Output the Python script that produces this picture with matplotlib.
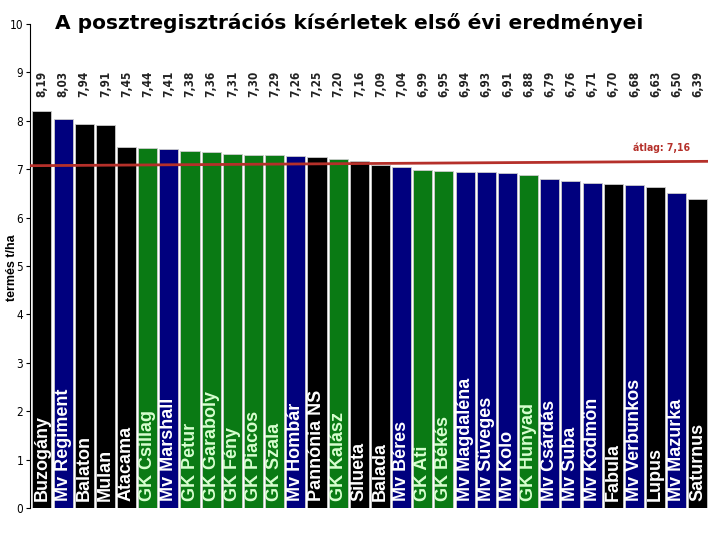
import matplotlib.pyplot as plt

# fajták, termés (t/ha) és a csoport (színkód)
fajtak = ['Buzogány', 'Mv Regiment', 'Balaton', 'Mulan', 'Atacama', 'GK Csillag',
          'Mv Marshall', 'GK Petur', 'GK Garaboly', 'GK Fény', 'GK Piacos', 'GK Szala',
          'Mv Hombár', 'Pannónia NS', 'GK Kalász', 'Silueta', 'Balada', 'Mv Béres',
          'GK Ati', 'GK Békés', 'Mv Magdaléna', 'Mv Süveges', 'Mv Kolo', 'GK Hunyad',
          'Mv Csárdás', 'Mv Suba', 'Mv Ködmön', 'Fabula', 'Mv Verbunkos', 'Lupus',
          'Mv Mazurka', 'Saturnus']
termes = [8.19, 8.03, 7.94, 7.91, 7.45, 7.44, 7.41, 7.38, 7.36, 7.31, 7.30, 7.29,
          7.26, 7.25, 7.20, 7.16, 7.09, 7.04, 6.99, 6.95, 6.94, 6.93, 6.91, 6.88,
          6.79, 6.76, 6.71, 6.70, 6.68, 6.63, 6.50, 6.39]
csoport = ['k', 'mv', 'k', 'k', 'k', 'gk', 'mv', 'gk', 'gk', 'gk', 'gk', 'gk',
           'mv', 'k', 'gk', 'k', 'k', 'mv', 'gk', 'gk', 'mv', 'mv', 'mv', 'gk',
           'mv', 'mv', 'mv', 'k', 'mv', 'k', 'mv', 'k']
atlag_vonal = [7.07, 7.16]   # a piros átlagvonal két vége (kissé ferde az eredetin)
atlag = 7.16

bar_col = {'k': '#000000', 'mv': '#00007e', 'gk': '#0a7a14'}
txt_col = {'k': 'white', 'mv': 'white', 'gk': '#d8ffd0'}
sans = ['Liberation Sans', 'DejaVu Sans']

fig = plt.figure(figsize=(7.2, 5.4), dpi=100)
ax = fig.add_axes([0.042, 0.059, 0.942, 0.897])

x = list(range(len(fajtak)))
ax.bar(x, termes, width=0.9, color=[bar_col[c] for c in csoport],
       edgecolor='#cccccc', linewidth=0.6, zorder=2)

for i, (nev, v, c) in enumerate(zip(fajtak, termes, csoport)):
    ax.text(i, 0.15, nev, rotation=90, ha='center', va='bottom', color=txt_col[c],
            fontsize=13, fontweight='bold', family=sans, zorder=3)
    ax.text(i, 8.75, f'{v:.2f}'.replace('.', ','), rotation=90, ha='center', va='center',
            fontsize=8.5, fontweight='bold', family='DejaVu Sans', fontstretch='condensed',
            color='#222222')

ax.plot([-0.55, 31.5], atlag_vonal, color='#b5302a', linewidth=2, zorder=4)
ax.text(29.3, 7.45, f'átlag: {atlag:.2f}'.replace('.', ','), color='#b5302a',
        fontsize=7.5, fontweight='bold', family='DejaVu Sans', fontstretch='condensed',
        ha='center', va='center')

ax.set_xlim(-0.55, 31.5)
ax.set_ylim(0, 10)
ax.set_yticks(range(11))
ax.set_xticks([])
for lab in ax.get_yticklabels():
    lab.set_family('DejaVu Sans')
    lab.set_stretch('condensed')
    lab.set_fontsize(8.5)
ax.tick_params(axis='y', length=3, width=0.8, pad=2)
ax.spines['top'].set_visible(False)
ax.spines['right'].set_visible(False)
ax.spines['bottom'].set_visible(False)
ax.spines['left'].set_linewidth(0.8)

fig.text(0.017, 0.505, 'termés t/ha', rotation=90, fontsize=9, fontweight='bold',
         family=sans, ha='center', va='center')

fig.text(0.077, 0.958, 'A posztregisztrációs kísérletek első évi eredményei',
         fontsize=14.5, fontweight='bold', family='DejaVu Sans', ha='left', va='center')

fig.savefig('out.png', dpi=100)
